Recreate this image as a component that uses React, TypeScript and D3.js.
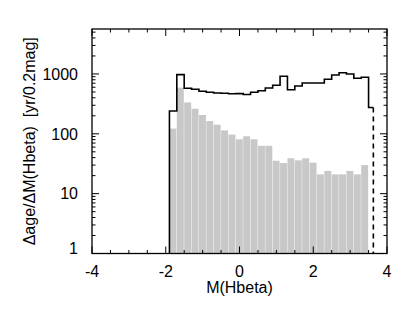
import React from "react";
import * as d3 from "d3";

// bin centres in M(Hbeta), 0.2 mag wide
const binCenters = [
  -1.8, -1.6, -1.4, -1.2, -1.0, -0.8, -0.6, -0.4, -0.2, 0.0, 0.2, 0.4, 0.6, 0.8,
  1.0, 1.2, 1.4, 1.6, 1.8, 2.0, 2.2, 2.4, 2.6, 2.8, 3.0, 3.2, 3.4,
];
// black step histogram
const lineValues = [
  240, 975, 578, 554, 513, 496, 481, 475, 466, 470, 455, 494, 525, 582, 646, 915,
  546, 629, 706, 706, 706, 814, 960, 1050, 998, 846, 879,
];
// grey filled histogram
const barValues = [
  122, 590, 335, 262, 206, 163, 142, 114, 97, 81, 91, 81, 63, 63, 35.5, 32.5, 39,
  36, 39, 33, 21, 24, 21, 21, 24, 21, 30,
];
// last partial bin of the line, then dashed drop
const tailEnd = 3.63;
const tailValue = 275;

const xTicks = [-4, -2, 0, 2, 4];
const yTicks = [1, 10, 100, 1000];

export default function App() {
  const W = 415;
  const H = 312;
  const left = 92;
  const right = 387;
  const top = 29;
  const bottom = 253.5;
  const binW = 0.2;
  const font = "'Liberation Sans', Arial, Helvetica, sans-serif";

  const x = d3.scaleLinear().domain([-4, 4]).range([left, right]);
  const y = d3.scaleLog().domain([1, 5640]).range([bottom, top]);

  // step path for the black histogram
  const pts: [number, number][] = [];
  pts.push([binCenters[0] - binW / 2, 1]);
  binCenters.forEach((c, i) => {
    pts.push([c - binW / 2, lineValues[i]]);
    pts.push([c + binW / 2, lineValues[i]]);
  });
  const lastEdge = binCenters[binCenters.length - 1] + binW / 2;
  pts.push([lastEdge, tailValue]);
  pts.push([tailEnd, tailValue]);
  const line = d3
    .line<[number, number]>()
    .x((d) => x(d[0]))
    .y((d) => y(d[1]));

  // minor ticks
  const xMinor = d3.range(-4, 4.01, 0.5).filter((v) => !xTicks.includes(v));
  const yMinor: number[] = [];
  for (let dec = 1; dec <= 1000; dec *= 10) {
    for (let k = 2; k <= 9; k++) {
      const v = dec * k;
      if (v <= 5640) yMinor.push(v);
    }
  }

  const major = 7;
  const minor = 3.5;

  return (
    <svg
      width={W}
      height={H}
      style={{ position: "absolute", left: 0, top: 0, background: "#fff" }}
      fontFamily={font}
    >
      {binCenters.map((c, i) => (
        <rect
          key={i}
          x={x(c - binW / 2)}
          y={y(barValues[i])}
          width={x(c + binW / 2) - x(c - binW / 2) - 0.4}
          height={bottom - y(barValues[i])}
          fill="#c8c8c8"
        />
      ))}
      <path d={line(pts) || ""} fill="none" stroke="#000" strokeWidth={1.6} />
      <line
        x1={x(tailEnd)}
        x2={x(tailEnd)}
        y1={y(tailValue)}
        y2={bottom}
        stroke="#000"
        strokeWidth={1.6}
        strokeDasharray="5,4"
      />
      <rect
        x={left}
        y={top}
        width={right - left}
        height={bottom - top}
        fill="none"
        stroke="#000"
        strokeWidth={1.3}
      />
      {xTicks.map((t) => (
        <g key={"xt" + t}>
          <line x1={x(t)} x2={x(t)} y1={bottom} y2={bottom - major} stroke="#000" />
          <line x1={x(t)} x2={x(t)} y1={top} y2={top + major} stroke="#000" />
          <text x={x(t)} y={277} fontSize={16} textAnchor="middle">
            {t < 0 ? "-" + Math.abs(t) : String(t)}
          </text>
        </g>
      ))}
      {xMinor.map((t) => (
        <g key={"xm" + t}>
          <line x1={x(t)} x2={x(t)} y1={bottom} y2={bottom - minor} stroke="#000" />
          <line x1={x(t)} x2={x(t)} y1={top} y2={top + minor} stroke="#000" />
        </g>
      ))}
      {yTicks.map((t) => (
        <g key={"yt" + t}>
          <line x1={left} x2={left + major} y1={y(t)} y2={y(t)} stroke="#000" />
          <line x1={right} x2={right - major} y1={y(t)} y2={y(t)} stroke="#000" />
          <text
            x={78}
            y={y(t)}
            dy={t === 1 ? "0" : "0.36em"}
            fontSize={16}
            textAnchor="end"
          >
            {String(t)}
          </text>
        </g>
      ))}
      {yMinor.map((t) => (
        <g key={"ym" + t}>
          <line x1={left} x2={left + minor} y1={y(t)} y2={y(t)} stroke="#000" />
          <line x1={right} x2={right - minor} y1={y(t)} y2={y(t)} stroke="#000" />
        </g>
      ))}
      <text x={(left + right) / 2} y={293} fontSize={16} textAnchor="middle">
        M(Hbeta)
      </text>
      <text
        transform={`translate(35, ${(top + bottom) / 2}) rotate(-90)`}
        fontSize={16}
        textAnchor="middle"
        style={{ whiteSpace: "pre" }}
      >
        {"Δage/ΔM(Hbeta)  [yr/0.2mag]"}
      </text>
    </svg>
  );
}
